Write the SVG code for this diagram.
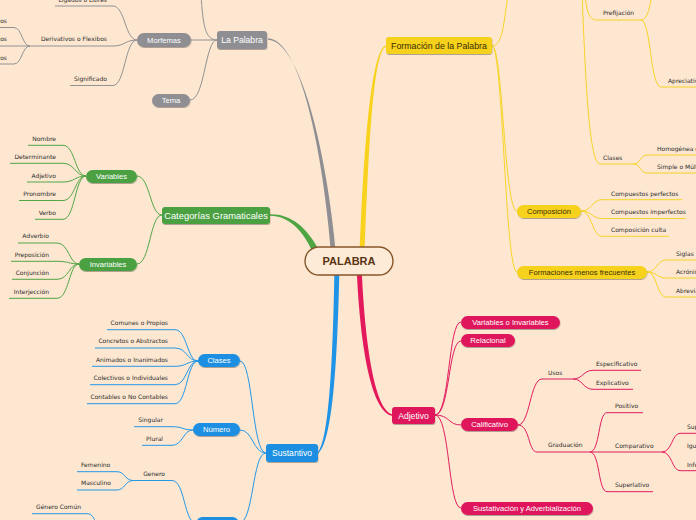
<svg xmlns="http://www.w3.org/2000/svg" width="696" height="520" viewBox="0 0 696 520">
<defs>
<filter id="sh" x="-20%" y="-30%" width="140%" height="170%">
<feDropShadow dx="0.4" dy="1" stdDeviation="0.7" flood-color="#000" flood-opacity="0.3"/>
</filter>
<style>
.c{fill:none;stroke-width:1}
.g{stroke:#929292}.gr{stroke:#52a646}.b{stroke:#2598e8}.y{stroke:#f8d426}.p{stroke:#e21c5e}
.leaf{font-family:"DejaVu Sans",Verdana,sans-serif;font-size:6px;fill:#2c2c2c}
.e{text-anchor:end}
.nt{font-family:"Liberation Sans",Arial,sans-serif;font-size:7.6px;fill:#fff;text-anchor:middle}
.mt{font-family:"Liberation Sans",Arial,sans-serif;font-size:9.4px;fill:#fff;text-anchor:middle}
.dk{fill:#3a2c05}
</style>
</defs>
<rect width="696" height="520" fill="#fde7d1"/>

<g id="connectors">
<path d="M268,38.2 C300,39 323,150 331.5,258 L336.5,258 C327,150 300,41 268,39.8 Z" fill="#8f8f93"/>
<path d="M386,45.2 C371,49 363.5,150 359.5,258 L364.5,258 C368.5,150 373,51 386,46.8 Z" fill="#f8d21c"/>
<path d="M270,214.2 C291,214 307,227 320,252 L314,255 C303,230 289,216 270,215.8 Z" fill="#4ea542"/>
<path d="M334.5,265 C333,360 329,439 318,452.2 L318,453.8 C333,441 337.5,360 339.5,265 Z" fill="#1f93e6"/>
<path d="M356.5,265 C359.5,340 370,411 392,415.8 L392,414.2 C374,409 364.5,340 361.5,265 Z" fill="#e3195c"/>

<path class="c g" d="M201,-5 C203,25 205,40 217,40"/>
<path class="c g" d="M191,40 H217"/>
<path class="c g" d="M190,100 C205,100 205,40 217,40"/>
<path class="c g" d="M55,6 H113 C125,6 125,40 137,40"/>
<path class="c g" d="M30,46 H113 C125,46 125,40 137,40"/>
<path class="c g" d="M70,85.5 H113 C125,85.5 125,40 137,40"/>
<path class="c g" d="M-2,27.5 H14 C22,27.5 22,46 30,46"/>
<path class="c g" d="M-2,46 H30"/>
<path class="c g" d="M-2,64 H14 C22,64 22,46 30,46"/>

<path class="c gr" d="M137,176 C150,176 150,215 162,215"/>
<path class="c gr" d="M137,264 C150,264 150,215 162,215"/>
<path class="c gr" d="M28,145.3 H63 C75,145.3 75,176 86,176"/>
<path class="c gr" d="M10,163.3 H63 C75,163.3 75,176 86,176"/>
<path class="c gr" d="M27,182 H63 C75,182 75,176 86,176"/>
<path class="c gr" d="M19,200.5 H63 C75,200.5 75,176 86,176"/>
<path class="c gr" d="M35,219.3 H63 C75,219.3 75,176 86,176"/>
<path class="c gr" d="M18,243 H57 C69,243 69,264 79,264"/>
<path class="c gr" d="M11,261.3 H57 C69,261.3 69,264 79,264"/>
<path class="c gr" d="M12,279.3 H57 C69,279.3 69,264 79,264"/>
<path class="c gr" d="M9,298.3 H57 C69,298.3 69,264 79,264"/>

<path class="c b" d="M240,361 C253,361 252,453 266,453"/>
<path class="c b" d="M240,430 C253,430 253,453 266,453"/>
<path class="c b" d="M239,523 C254,523 252,453 266,453"/>
<path class="c b" d="M107,329.7 H175 C187,329.7 187,361 198,361"/>
<path class="c b" d="M95,348 H175 C187,348 187,361 198,361"/>
<path class="c b" d="M92,366.3 H175 C187,366.3 187,361 198,361"/>
<path class="c b" d="M90,384.7 H175 C187,384.7 187,361 198,361"/>
<path class="c b" d="M87,403.7 H175 C187,403.7 187,361 198,361"/>
<path class="c b" d="M134,426.7 H172 C183,426.7 183,430 193,430"/>
<path class="c b" d="M142,445.3 H172 C183,445.3 183,430 193,430"/>
<path class="c b" d="M133,480.5 H172 C185,480.5 184,523 196,523"/>
<path class="c b" d="M77,471.7 H117 C125,471.7 125,480.5 133,480.5"/>
<path class="c b" d="M77,490 H117 C125,490 125,480.5 133,480.5"/>
<path class="c b" d="M32,513.7 H88 C96,513.7 96,532 104,532"/>

<path class="c y" d="M492,46 C503,46 504,20 508,-5"/>
<path class="c y" d="M492,46 C503,46 504,211 517,211"/>
<path class="c y" d="M492,46 C503,46 505,272 517,272"/>
<path class="c y" d="M582,-5 C585,60 588,164 600,164 H633"/>
<path class="c y" d="M585,-5 C587,12 589,20 597,20 H641"/>
<path class="c y" d="M641,20 C648,20 650,5 652,-5"/>
<path class="c y" d="M641,20 C651,20 650,87 661,87 H700"/>
<path class="c y" d="M633,164 C641,164 640,155 647,155 H700"/>
<path class="c y" d="M633,164 C641,164 640,173 647,173 H700"/>
<path class="c y" d="M581,211 C592,211 592,199.7 602,199.7 H682"/>
<path class="c y" d="M581,211 C592,211 592,218.5 602,218.5 H686"/>
<path class="c y" d="M581,211 C592,211 592,236.3 602,236.3 H669"/>
<path class="c y" d="M647,272 C657,272 657,260 666,260 H700"/>
<path class="c y" d="M647,272 C657,272 657,278 666,278 H700"/>
<path class="c y" d="M647,272 C657,272 657,297 666,297 H700"/>

<path class="c p" d="M435,415 C450,415 448,322 461,322"/>
<path class="c p" d="M435,415 C450,415 448,341 461,341"/>
<path class="c p" d="M435,415 C450,415 448,425 461,425"/>
<path class="c p" d="M435,415 C450,415 448,508 461,508"/>
<path class="c p" d="M518,425 C530,425 530,379 542,379 H573"/>
<path class="c p" d="M518,425 C530,425 528,452 537,452 H662"/>
<path class="c p" d="M573,379 C583,379 583,370.3 593,370.3 H641"/>
<path class="c p" d="M573,379 C583,379 583,389.3 593,389.3 H633"/>
<path class="c p" d="M590,452 C600,452 598,412.7 607,412.7 H643"/>
<path class="c p" d="M590,452 C600,452 598,491.7 607,491.7 H653"/>
<path class="c p" d="M662,452 C672,452 672,433.3 680,433.3 H700"/>
<path class="c p" d="M662,452 C672,452 672,470.7 680,470.7 H700"/>
</g>

<g id="palabra">
<rect x="305" y="247" width="88" height="28" rx="14" fill="#fdebd8" stroke="#86572a" stroke-width="1.4"/>
<text x="349" y="265" font-family="'Liberation Sans',Arial,sans-serif" font-size="11px" font-weight="bold" fill="#5a3312" text-anchor="middle">PALABRA</text>
</g>

<g id="la-palabra"><rect x="217" y="31" width="50" height="18" rx="3" fill="#8e8e93" filter="url(#sh)"/><text class="mt" x="242" y="43.2" style="font-size:8.6px">La Palabra</text></g>
<g id="morfemas"><rect x="137" y="33" width="54" height="14" rx="7" fill="#8e8e93" filter="url(#sh)"/><text class="nt" x="164" y="42.7">Morfemas</text></g>
<g id="tema"><rect x="152" y="94" width="38" height="13" rx="6.5" fill="#8e8e93" filter="url(#sh)"/><text class="nt" x="171" y="103.2">Tema</text></g>
<g id="ligados"><text class="leaf e" x="107" y="2">Ligados o Libres</text></g>
<g id="derivativos"><text class="leaf e" x="107" y="41.3">Derivativos o Flexibos</text></g>
<g id="significado"><text class="leaf e" x="107" y="81.3">Significado</text></g>
<g id="prefijos"><text class="leaf e" x="7" y="23.3">Prefijos</text></g>
<g id="infijos"><text class="leaf e" x="7" y="41.3">Infijos</text></g>
<g id="sufijos"><text class="leaf e" x="7" y="60.3">Sufijos</text></g>

<g id="categorias"><rect x="162" y="207" width="108" height="17" rx="3" fill="#4ca142" filter="url(#sh)"/><text class="mt" x="216" y="218.8">Categorías Gramaticales</text></g>
<g id="variables"><rect x="86" y="170" width="51" height="13" rx="6.5" fill="#4ca142" filter="url(#sh)"/><text class="nt" x="111.5" y="179.2">Variables</text></g>
<g id="invariables"><rect x="79" y="258" width="58" height="13" rx="6.5" fill="#4ca142" filter="url(#sh)"/><text class="nt" x="108" y="267.2">Invariables</text></g>
<g id="nombre"><text class="leaf e" x="56" y="141.3">Nombre</text></g>
<g id="determinante"><text class="leaf e" x="56" y="159.3">Determinante</text></g>
<g id="adjetivo-v"><text class="leaf e" x="56" y="178">Adjetivo</text></g>
<g id="pronombre"><text class="leaf e" x="56" y="196.3">Pronombre</text></g>
<g id="verbo"><text class="leaf e" x="56" y="215.3">Verbo</text></g>
<g id="adverbio"><text class="leaf e" x="49" y="238.3">Adverbio</text></g>
<g id="preposicion"><text class="leaf e" x="49" y="257.3">Preposición</text></g>
<g id="conjuncion"><text class="leaf e" x="49" y="275.3">Conjunción</text></g>
<g id="interjeccion"><text class="leaf e" x="49" y="294.3">Interjección</text></g>

<g id="sustantivo"><rect x="266" y="444" width="52" height="18" rx="3" fill="#1b8fe2" filter="url(#sh)"/><text class="mt" x="292" y="456.3" style="font-size:8.6px">Sustantivo</text></g>
<g id="clases-s"><rect x="198" y="354" width="42" height="13" rx="6.5" fill="#1b8fe2" filter="url(#sh)"/><text class="nt" x="219" y="363.2">Clases</text></g>
<g id="numero"><rect x="193" y="423" width="47" height="13" rx="6.5" fill="#1b8fe2" filter="url(#sh)"/><text class="nt" x="216.5" y="432.2">Número</text></g>
<g id="genero-node"><rect x="196" y="517" width="43" height="13" rx="6.5" fill="#1b8fe2" filter="url(#sh)"/></g>
<g id="comunes"><text class="leaf e" x="168" y="325.3">Comunes o Propios</text></g>
<g id="concretos"><text class="leaf e" x="168" y="343.3">Concretos o Abstractos</text></g>
<g id="animados"><text class="leaf e" x="168" y="362.3">Animados o Inanimados</text></g>
<g id="colectivos"><text class="leaf e" x="168" y="380.3">Colectivos o Individuales</text></g>
<g id="contables"><text class="leaf e" x="168" y="399.3">Contables o No Contables</text></g>
<g id="singular"><text class="leaf e" x="163" y="422.3">Singular</text></g>
<g id="plural"><text class="leaf e" x="163" y="441.3">Plural</text></g>
<g id="genero"><text class="leaf e" x="165" y="476.3">Genero</text></g>
<g id="femenino"><text class="leaf" x="81" y="467">Femenino</text></g>
<g id="masculino"><text class="leaf" x="81" y="485.3">Masculino</text></g>
<g id="genero-comun"><text class="leaf" x="36" y="509.3">Género Común</text></g>

<g id="formacion"><rect x="386" y="37" width="106" height="17" rx="3" fill="#f6d21b" filter="url(#sh)"/><text class="mt dk" x="439" y="48.8" style="font-size:8.8px">Formación de la Palabra</text></g>
<g id="composicion"><rect x="517" y="205" width="64" height="13" rx="6.5" fill="#f6d21b" filter="url(#sh)"/><text class="nt dk" x="549" y="214.2">Composición</text></g>
<g id="formaciones"><rect x="517" y="266" width="130" height="13" rx="6.5" fill="#f6d21b" filter="url(#sh)"/><text class="nt dk" x="582" y="275.2">Formaciones menos frecuentes</text></g>
<g id="prefijacion"><text class="leaf" x="603" y="15.3">Prefijación</text></g>
<g id="apreciativos"><text class="leaf" x="668" y="83.3">Apreciativos</text></g>
<g id="clases-f"><text class="leaf" x="603" y="160.3">Clases</text></g>
<g id="homogenea"><text class="leaf" x="657" y="151.3">Homogénea o Heterogénea</text></g>
<g id="simple"><text class="leaf" x="657" y="169">Simple o Múltiple</text></g>
<g id="perfectos"><text class="leaf" x="611" y="195.6">Compuestos perfectos</text></g>
<g id="imperfectos"><text class="leaf" x="611" y="214.3">Compuestos imperfectos</text></g>
<g id="culta"><text class="leaf" x="611" y="232.3">Composición culta</text></g>
<g id="siglas"><text class="leaf" x="676" y="256.3">Siglas</text></g>
<g id="acronimos"><text class="leaf" x="676" y="274.3">Acrónimos</text></g>
<g id="abreviaturas"><text class="leaf" x="676" y="293.3">Abreviaturas</text></g>

<g id="adjetivo"><rect x="392" y="407" width="43" height="17" rx="3" fill="#e0195b" filter="url(#sh)"/><text class="mt" x="413.5" y="418.8" style="font-size:8.6px">Adjetivo</text></g>
<g id="var-inv"><rect x="461" y="316" width="99" height="13" rx="6.5" fill="#e0195b" filter="url(#sh)"/><text class="nt" x="510.5" y="325.2">Variables o Invariables</text></g>
<g id="relacional"><rect x="461" y="334" width="54" height="13" rx="6.5" fill="#e0195b" filter="url(#sh)"/><text class="nt" x="488" y="343.2">Relacional</text></g>
<g id="calificativo"><rect x="461" y="418" width="57" height="13" rx="6.5" fill="#e0195b" filter="url(#sh)"/><text class="nt" x="489.5" y="427.2">Calificativo</text></g>
<g id="sustativacion"><rect x="461" y="502" width="132" height="13" rx="6.5" fill="#e0195b" filter="url(#sh)"/><text class="nt" x="527" y="511.2">Sustativación y Adverbialización</text></g>
<g id="usos"><text class="leaf" x="548" y="375">Usos</text></g>
<g id="graduacion"><text class="leaf" x="548" y="447.3">Graduación</text></g>
<g id="especificativo"><text class="leaf" x="596" y="366">Especificativo</text></g>
<g id="explicativo"><text class="leaf" x="596" y="385.3">Explicativo</text></g>
<g id="positivo"><text class="leaf" x="615" y="408.3">Positivo</text></g>
<g id="comparativo"><text class="leaf" x="615" y="448.3">Comparativo</text></g>
<g id="superlativo"><text class="leaf" x="615" y="487">Superlativo</text></g>
<g id="superioridad"><text class="leaf" x="687" y="429">Superioridad</text></g>
<g id="igualdad"><text class="leaf" x="687" y="448.3">Igualdad</text></g>
<g id="inferioridad"><text class="leaf" x="687" y="466.5">Inferioridad</text></g>
</svg>
